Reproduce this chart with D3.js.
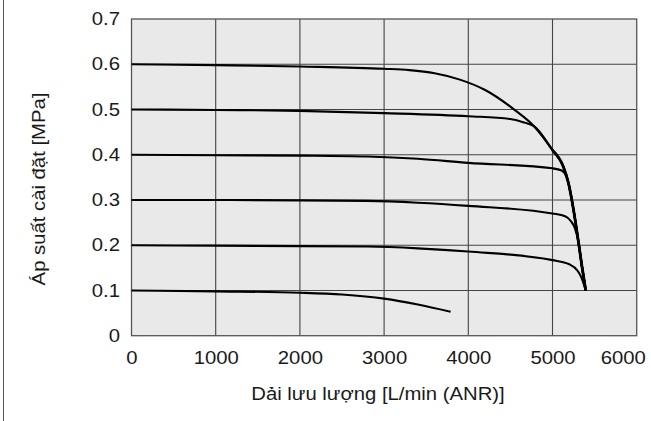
<!DOCTYPE html>
<html><head><meta charset="utf-8">
<script src="https://cdn.jsdelivr.net/npm/d3@7"></script>
<style>body{margin:0;background:#fff;} text{font-family:"Liberation Sans",Arial,sans-serif;fill:#1a1a1a;}</style>
</head><body>
<svg id="c" width="651" height="421"></svg>
<script>
const xTicks = [0,1000,2000,3000,4000,5000,6000];
const yTicks = [0,0.1,0.2,0.3,0.4,0.5,0.6,0.7];
const xTitle = "Dải lưu lượng [L/min (ANR)]";
const yTitle = "Áp suất cài đặt [MPa]";

// [flow L/min, pressure MPa]
const curve06 = [[0,0.600],[1000,0.598],[2000,0.595],[3000,0.590],[3300,0.587],[3600,0.580],[3900,0.566],[4200,0.543],[4550,0.499]];
const curve05 = [[0,0.500],[1000,0.499],[2000,0.497],[3000,0.492],[4000,0.485],[4500,0.479],[4650,0.472]];
const curve04 = [[0,0.400],[1000,0.399],[2000,0.398],[2800,0.396],[3400,0.391],[4000,0.382],[5000,0.370],[5110,0.365],[5165,0.352]];
const curve03 = [[0,0.300],[1000,0.300],[2000,0.299],[2800,0.298],[3400,0.294],[4000,0.287],[5000,0.270],[5150,0.264],[5220,0.253],[5265,0.238]];
const curve02 = [[0,0.200],[1000,0.199],[2000,0.198],[2800,0.197],[3400,0.193],[4000,0.186],[5000,0.167],[5200,0.158],[5300,0.143],[5345,0.128]];
const curve01 = [[0,0.100],[1000,0.098],[2000,0.095],[2500,0.091],[3000,0.082],[3400,0.069],[3790,0.053]];
const envelope = [[4780,0.463],[5000,0.410],[5130,0.373],[5190,0.337],[5250,0.278],[5310,0.205],[5350,0.153],[5395,0.100]];

const L = 131.5, R = 636.7, T = 19, B = 335.7;
const x = d3.scaleLinear().domain([0,6000]).range([L,R]);
const y = d3.scaleLinear().domain([0,0.7]).range([B,T]);
const svg = d3.select("#c");
const SX = 1.16, FS = "17.5px";

// left frame line
svg.append("line").attr("x1",3.5).attr("x2",3.5).attr("y1",0).attr("y2",421).attr("stroke","#555").attr("stroke-width",1);

svg.append("rect").attr("x",L).attr("y",T).attr("width",R-L).attr("height",B-T).attr("fill","#e8e9e8");

const g = svg.append("g");
g.selectAll(".vg").data(xTicks.slice(1,-1)).join("line")
  .attr("x1",d=>x(d)).attr("x2",d=>x(d)).attr("y1",T).attr("y2",B)
  .attr("stroke","#444").attr("stroke-width",1.1);
g.selectAll(".hg").data(yTicks.slice(1,-1)).join("line")
  .attr("y1",d=>y(d)).attr("y2",d=>y(d)).attr("x1",L).attr("x2",R)
  .attr("stroke","#444").attr("stroke-width",1.1);
svg.append("rect").attr("x",L).attr("y",T).attr("width",R-L).attr("height",B-T).attr("fill","none").attr("stroke","#555").attr("stroke-width",1.3);

const line = d3.line().x(d=>x(d[0])).y(d=>y(d[1])).curve(d3.curveMonotoneX);
function withEnv(c){ const last=c[c.length-1]; return c.concat(envelope.filter(e=>e[1]<last[1]-0.004 && e[0]>last[0])); }
[curve06,curve05,curve04,curve03,curve02].forEach(c=>{
  svg.append("path").attr("d",line(withEnv(c))).attr("fill","none").attr("stroke","#000").attr("stroke-width",2.1).attr("stroke-linejoin","round");
});
svg.append("path").attr("d",line(curve01)).attr("fill","none").attr("stroke","#000").attr("stroke-width",2.1);
svg.append("path").attr("d",line(envelope.filter(e=>e[1]<0.42))).attr("fill","none").attr("stroke","#000").attr("stroke-width",2.8);

// axes
const yAx = svg.append("g").attr("transform",`translate(${L},0)`)
  .call(d3.axisLeft(y).tickValues(yTicks).tickSize(0).tickPadding(0).tickFormat(d=>d===0?"0":d3.format(".1f")(d)));
yAx.select(".domain").remove();
yAx.selectAll("text").attr("font-size",FS).attr("font-family","Liberation Sans, Arial, sans-serif").attr("fill","#1a1a1a")
  .attr("x",-11.5/SX).attr("transform",`scale(${SX},1)`);
const xAx = svg.append("g").attr("transform",`translate(0,${B})`)
  .call(d3.axisBottom(x).tickValues(xTicks).tickSize(0).tickPadding(0).tickFormat(d3.format("d")));
xAx.select(".domain").remove();
xAx.selectAll("text").attr("font-size",FS).attr("font-family","Liberation Sans, Arial, sans-serif").attr("fill","#1a1a1a")
  .attr("dy",null).attr("y",28.8).attr("transform",`scale(${SX},1)`);
xAx.selectAll("text").filter(d=>d===6000).attr("x",-14/SX);

svg.append("text").attr("transform",`translate(378,400) scale(${SX},1)`).attr("text-anchor","middle").attr("font-size",FS).text(xTitle);
svg.append("text").attr("transform",`translate(45,189) rotate(-90) scale(${SX},1)`).attr("text-anchor","middle").attr("font-size",FS).text(yTitle);
</script>
</body></html>
